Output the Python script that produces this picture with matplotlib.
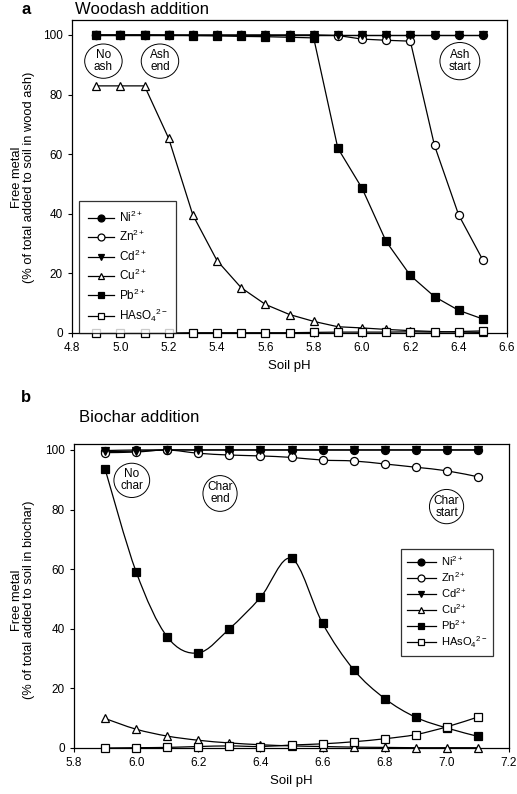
import matplotlib
matplotlib.use("Agg")
import matplotlib.pyplot as plt
from matplotlib.lines import Line2D
from matplotlib.path import Path
from matplotlib.patches import PathPatch, Ellipse
import numpy as np

plt.rcParams['font.family'] = ['Liberation Sans', 'DejaVu Sans']
plt.rcParams['font.size'] = 8
plt.rcParams['mathtext.fontset'] = 'custom'
plt.rcParams['mathtext.rm'] = 'Liberation Sans'
plt.rcParams['mathtext.it'] = 'Liberation Sans'
plt.rcParams['mathtext.bf'] = 'Liberation Sans:bold'

# ---- panel a: wood ash ----
ph_a = [4.9, 5.0, 5.1, 5.2, 5.3, 5.4, 5.5, 5.6, 5.7, 5.8, 5.9, 6.0, 6.1, 6.2, 6.3, 6.4, 6.5]
ni_a = [100, 100, 100, 100, 100, 100, 100, 100, 100, 100, 100, 100, 100, 100, 100, 100, 100]
zn_a = [100, 100, 100, 100, 100, 100, 100, 100, 100, 100, 99.8, 98.6, 98.2, 97.9, 62.9, 39.6, 24.5]
cd_a = [100, 100, 100, 100, 100, 100, 100, 100, 100, 100, 100, 100, 100, 100, 100, 100, 100]
cu_a = [82.9, 82.9, 82.9, 65.3, 39.6, 24.3, 15.2, 9.6, 6.2, 3.9, 2.1, 1.7, 1.2, 0.8, 0.5, 0.3, 0.2]
pb_a = [100, 100, 100, 99.9, 99.8, 99.7, 99.5, 99.4, 99.2, 99.0, 62.0, 48.6, 30.7, 19.3, 12.2, 7.6, 4.7]
as_a = [0, 0, 0, 0, 0.1, 0.1, 0.1, 0.1, 0.1, 0.2, 0.3, 0.3, 0.3, 0.4, 0.3, 0.5, 0.7]

# ---- panel b: biochar ----
ph_b = [5.9, 6.0, 6.1, 6.2, 6.3, 6.4, 6.5, 6.6, 6.7, 6.8, 6.9, 7.0, 7.1]
ni_b = [99.8, 100, 100, 100, 100, 100, 100, 100, 100, 100, 100, 100, 100]
zn_b = [99.1, 99.3, 100, 98.9, 98.3, 98.0, 97.5, 96.6, 96.3, 95.3, 94.2, 93.0, 91.0]
cd_b = [99.5, 99.6, 100, 100, 100, 100, 100, 100, 100, 100, 100, 100, 100]
cu_b = [9.9, 6.3, 4.0, 2.6, 1.7, 1.1, 0.7, 0.5, 0.3, 0.2, 0.1, 0.1, 0.1]
pb_b = [93.6, 59.1, 37.3, 31.9, 40.0, 50.5, 63.6, 41.8, 26.3, 16.6, 10.3, 6.7, 3.9]
as_b = [0, 0.1, 0.2, 0.5, 0.7, 0.5, 1.0, 1.4, 2.1, 3.1, 4.5, 7.1, 10.4]

labels = ['Ni$^{2+}$', 'Zn$^{2+}$', 'Cd$^{2+}$', 'Cu$^{2+}$', 'Pb$^{2+}$', 'HAsO$_4$$^{2-}$']
markers = ['o', 'o', 'v', '^', 's', 's']
faces = ['k', 'w', 'k', 'w', 'k', 'w']
sizes = [5.8, 5.8, 6.2, 5.8, 6.2, 6.2]


def smooth_path(x, y):
    # catmull-rom style bezier through the points (drawing only)
    x = np.asarray(x, float)
    y = np.asarray(y, float)
    verts = [(x[0], y[0])]
    codes = [Path.MOVETO]
    n = len(x)
    for i in range(n - 1):
        i0 = max(i - 1, 0)
        i3 = min(i + 2, n - 1)
        c1 = (x[i] + (x[i + 1] - x[i0]) / 6, y[i] + (y[i + 1] - y[i0]) / 6)
        c2 = (x[i + 1] - (x[i3] - x[i]) / 6, y[i + 1] - (y[i3] - y[i]) / 6)
        verts += [c1, c2, (x[i + 1], y[i + 1])]
        codes += [Path.CURVE4] * 3
    return Path(verts, codes)


def draw(ax, x, series, smooth):
    for ys, m, fc, ms in zip(series, markers, faces, sizes):
        if smooth:
            ax.add_patch(PathPatch(smooth_path(x, ys), fc='none', ec='k', lw=0.9, zorder=2))
            ax.plot(x, ys, ls='none', marker=m, mfc=fc, mec='k', mew=0.9, ms=ms,
                    clip_on=False, zorder=3)
        else:
            ax.plot(x, ys, color='k', lw=0.9, marker=m, mfc=fc, mec='k', mew=0.9, ms=ms,
                    clip_on=False, zorder=3)


def bubble(ax, x, y, txt, w, h):
    ax.add_patch(Ellipse((x, y), w, h, fc='w', ec='k', lw=0.7, zorder=4))
    ax.text(x, y, txt, ha='center', va='center', fontsize=8.5, linespacing=1.0, zorder=5)


def style(ax):
    for s in ax.spines.values():
        s.set_linewidth(0.9)
    ax.tick_params(direction='out', length=3, width=0.8, labelsize=8.5, top=False, right=False)


handles = [Line2D([], [], color='k', lw=0.9, marker=m, mfc=fc, mec='k', mew=0.9, ms=5)
           for m, fc in zip(markers, faces)]

fig = plt.figure(figsize=(5.17, 7.94), dpi=100)

# panel a
ax1 = fig.add_axes([72 / 517, 1 - 333 / 794, 435 / 517, 313 / 794])
draw(ax1, ph_a, [ni_a, zn_a, cd_a, cu_a, pb_a, as_a], smooth=False)
ax1.set_xlim(4.8, 6.6)
ax1.set_ylim(0, 105)
ax1.set_xticks([4.8, 5.0, 5.2, 5.4, 5.6, 5.8, 6.0, 6.2, 6.4, 6.6])
ax1.set_xticklabels(['4.8', '5.0', '5.2', '5.4', '5.6', '5.8', '6.0', '6.2', '6.4', '6.6'])
ax1.set_yticks([0, 20, 40, 60, 80, 100])
style(ax1)
ax1.set_xlabel('Soil pH', fontsize=9.5, labelpad=4)
bubble(ax1, 4.93, 91.2, 'No\nash', 0.155, 11.5)
bubble(ax1, 5.164, 91.2, 'Ash\nend', 0.155, 11.5)
bubble(ax1, 6.405, 91.2, 'Ash\nstart', 0.165, 12.5)
leg1 = ax1.legend(handles, labels, loc='lower left', bbox_to_anchor=(0.016, 0.0),
                  frameon=True, fancybox=False, edgecolor='k', fontsize=8.5,
                  handlelength=2.2, labelspacing=0.36, borderpad=0.75, handletextpad=0.4,
                  borderaxespad=0.0)
leg1.get_frame().set_linewidth(0.9)
leg1.set_zorder(6)
fig.text(21 / 517, 1 - 10 / 794, 'a', fontsize=12, fontweight='bold', va='center')
fig.text(75 / 517, 1 - 9 / 794, 'Woodash addition', fontsize=12, va='center')
fig.text(23 / 517, 1 - 177 / 794, 'Free metal\n(% of total added to soil in wood ash)',
         rotation=90, ha='center', va='center', fontsize=9.3, linespacing=1.1)

# panel b
ax2 = fig.add_axes([74 / 517, 1 - 748 / 794, 435 / 517, 304 / 794])
draw(ax2, ph_b, [ni_b, zn_b, cd_b, cu_b, pb_b, as_b], smooth=True)
ax2.set_xlim(5.8, 7.2)
ax2.set_ylim(0, 102)
ax2.set_xticks([5.8, 6.0, 6.2, 6.4, 6.6, 6.8, 7.0, 7.2])
ax2.set_xticklabels(['5.8', '6.0', '6.2', '6.4', '6.6', '6.8', '7.0', '7.2'])
ax2.set_yticks([0, 20, 40, 60, 80, 100])
style(ax2)
ax2.set_xlabel('Soil pH', fontsize=9.5, labelpad=4)
bubble(ax2, 5.986, 89.8, 'No\nchar', 0.115, 11.5)
bubble(ax2, 6.27, 85.4, 'Char\nend', 0.11, 12.0)
bubble(ax2, 6.999, 81.0, 'Char\nstart', 0.11, 11.5)
leg2 = ax2.legend(handles, labels, loc='upper left', bbox_to_anchor=(0.752, 0.655),
                  frameon=True, fancybox=False, edgecolor='k', fontsize=8,
                  handlelength=2.6, labelspacing=0.2, borderpad=0.5, handletextpad=0.5,
                  borderaxespad=0.0)
leg2.get_frame().set_linewidth(0.9)
leg2.set_zorder(6)
fig.text(21 / 517, 1 - 397 / 794, 'b', fontsize=12, fontweight='bold', va='center')
fig.text(79 / 517, 1 - 417 / 794, 'Biochar addition', fontsize=12, va='center')
fig.text(23 / 517, 1 - 600 / 794, 'Free metal\n(% of total added to soil in biochar)',
         rotation=90, ha='center', va='center', fontsize=9.3, linespacing=1.1)

fig.savefig('out.png', dpi=100)
